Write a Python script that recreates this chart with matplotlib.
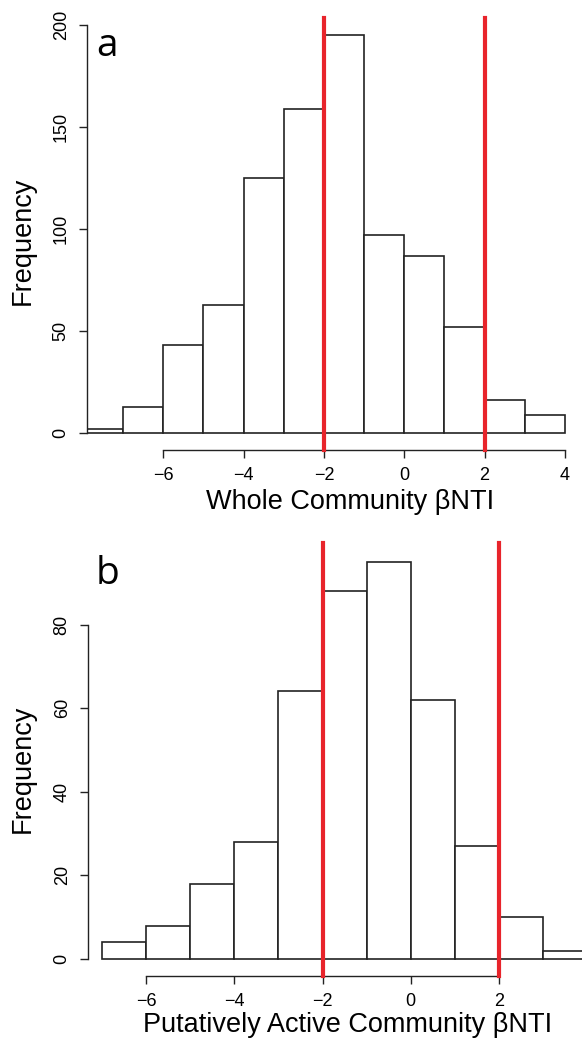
import matplotlib
matplotlib.use("Agg")
import matplotlib.pyplot as plt

# panel a: whole community betaNTI histogram (bin width 1)
edges_a = [-8, -7, -6, -5, -4, -3, -2, -1, 0, 1, 2, 3, 4]
counts_a = [2, 13, 43, 63, 125, 159, 195, 97, 87, 52, 16, 9]

# panel b: putatively active community betaNTI histogram
edges_b = [-7, -6, -5, -4, -3, -2, -1, 0, 1, 2, 3, 4]
counts_b = [4, 8, 18, 28, 64, 88, 95, 62, 27, 10, 2]

thresholds = [-2, 2]
xticks_a = [-6, -4, -2, 0, 2, 4]
yticks_a = [0, 50, 100, 150, 200]
xticks_b = [-6, -4, -2, 0, 2]
yticks_b = [0, 20, 40, 60, 80]

W, H = 582, 1046
fig = plt.figure(figsize=(W / 100, H / 100), dpi=100)

tick_font = "Liberation Sans"
label_font = ["Liberation Sans", "DejaVu Sans"]
letter_font = ["Open Sans", "DejaVu Sans"]


def px_axes(left, top, right, bottom):
    return fig.add_axes([left / W, 1 - bottom / H, (right - left) / W, (bottom - top) / H])


def draw_panel(ax, box, edges, counts, xlim, ylim, xticks, yticks, xbounds, ybounds,
               xlabel, xlabel_px, ylabel_px, letter, letter_xy):
    left, top, right, bottom = box
    widths = [edges[i + 1] - edges[i] for i in range(len(counts))]
    ax.bar(edges[:-1], counts, width=widths, align="edge", color="white",
           edgecolor="#222222", linewidth=1.2, zorder=2)
    for t in thresholds:
        ax.axvline(t, color="#e8242b", linewidth=3, zorder=3, clip_on=False)
    ax.set_xlim(*xlim)
    ax.set_ylim(*ylim)
    for s in ["top", "right"]:
        ax.spines[s].set_visible(False)
    ax.spines["bottom"].set_bounds(*xbounds)
    ax.spines["left"].set_bounds(*ybounds)
    for s in ["bottom", "left"]:
        ax.spines[s].set_linewidth(1.0)
        ax.spines[s].set_color("#222222")
    ax.set_xticks(xticks)
    ax.set_yticks(yticks)
    ax.set_xticklabels([str(v).replace("-", "\u2212") for v in xticks],
                       fontsize=13, family=tick_font)
    ax.set_yticklabels([str(v) for v in yticks], fontsize=13, family=tick_font,
                       rotation=90, va="center")
    ax.tick_params(length=6, width=1.0, color="#222222", pad=6.5)
    ax.set_xlabel(xlabel, fontsize=19.5, family=label_font)
    ax.set_ylabel("Frequency", fontsize=19.5, family=label_font)
    # place axis labels by pixel centres
    ax.xaxis.label.set_va("center")
    ax.yaxis.label.set_va("center")
    ax.xaxis.set_label_coords((xlabel_px[0] - left) / (right - left),
                              (bottom - xlabel_px[1]) / (bottom - top))
    ax.yaxis.set_label_coords((ylabel_px[0] - left) / (right - left),
                              (bottom - ylabel_px[1]) / (bottom - top))
    fig.text(letter_xy[0] / W, 1 - letter_xy[1] / H, letter, fontsize=28,
             family=letter_font, ha="left", va="baseline")


box_a = (87, 18, 582, 450)
ax_a = px_axes(*box_a)
draw_panel(ax_a, box_a, edges_a, counts_a, (-7.9, 4.425), (-8.3, 203.5),
           xticks_a, yticks_a, (-6, 4), (0, 200),
           "Whole Community \u03b2NTI", (350, 502), (23, 241), "a", (96, 56))

box_b = (88, 543, 582, 976)
ax_b = px_axes(*box_b)
draw_panel(ax_b, box_b, edges_b, counts_b, (-7.32, 3.886), (-4.07, 99.5),
           xticks_b, yticks_b, (-6, 2), (0, 80),
           "Putatively Active Community \u03b2NTI", (348, 1025), (23, 769), "b", (96, 584))

fig.savefig("out.png", dpi=100)
